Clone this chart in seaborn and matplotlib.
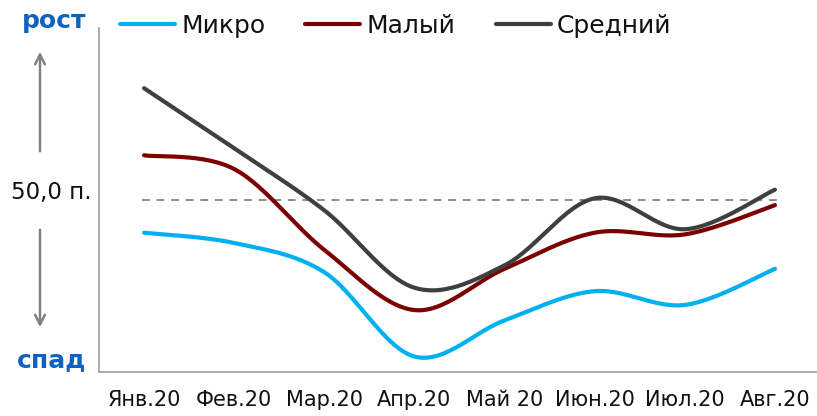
import numpy as np
import pandas as pd
import matplotlib
matplotlib.use("Agg")
import matplotlib.pyplot as plt
import seaborn as sns

# data (index, 50 = no change)
months = ["Янв.20", "Фев.20", "Мар.20", "Апр.20", "Май 20", "Июн.20", "Июл.20", "Авг.20"]
micro = [48.1, 47.5, 45.8, 40.9, 43.0, 44.7, 43.9, 46.0]
small = [52.6, 51.8, 47.1, 43.6, 46.0, 48.1, 48.0, 49.7]
medium = [56.5, 53.0, 49.4, 44.9, 46.2, 50.1, 48.3, 50.6]
series_names = ["Микро", "Малый", "Средний"]
colors = ["#00B0F0", "#7B0000", "#3F3F3F"]


def smooth(vals, n=30):
    # excel-like smoothed line (catmull-rom through the points)
    y = np.asarray(vals, dtype=float)
    x = np.arange(len(y), dtype=float)
    p = np.column_stack([x, y])
    pp = np.vstack([p[0], p, p[-1]])
    out = []
    t = np.linspace(0, 1, n)[:, None]
    for i in range(len(p) - 1):
        p0, p1, p2, p3 = pp[i], pp[i + 1], pp[i + 2], pp[i + 3]
        b1 = p1 + (p2 - p0) / 6
        b2 = p2 - (p3 - p1) / 6
        seg = ((1 - t) ** 3) * p1 + 3 * ((1 - t) ** 2) * t * b1 + 3 * (1 - t) * t ** 2 * b2 + t ** 3 * p2
        out.append(seg if i == 0 else seg[1:])
    return np.vstack(out)


frames = []
for name, vals in zip(series_names, [micro, small, medium]):
    c = smooth(vals)
    frames.append(pd.DataFrame({"x": c[:, 0], "y": c[:, 1], "series": name}))
df = pd.concat(frames, ignore_index=True)

sns.set_style("white")
plt.rcParams["font.family"] = ["DejaVu Sans"]

fig = plt.figure(figsize=(8.17, 4.16), dpi=100)
ax = fig.add_axes([99 / 817, 44 / 416, 721 / 817, 344 / 416])

ax.axhline(50, color="#8C8C8C", lw=1.4, ls=(0, (4, 3.5)), xmin=0.06, xmax=0.94, zorder=1)

sns.lineplot(data=df, x="x", y="y", hue="series", palette=colors, sort=False,
             estimator=None, lw=3, ax=ax, legend=False, zorder=3)

ax.set_xlim(-0.5, 7.5)
ax.set_ylim(40, 60)
ax.set_xticks(range(len(months)))
ax.set_xticklabels(months, fontsize=15, color="#111111")
ax.tick_params(axis="x", length=0, pad=13)
ax.set_yticks([])
ax.set_xlabel("")
ax.set_ylabel("")
for s in ["top", "right"]:
    ax.spines[s].set_visible(False)
for s in ["left", "bottom"]:
    ax.spines[s].set_color("#A6A6A6")
    ax.spines[s].set_linewidth(1.3)

# legend
handles = [plt.Line2D([], [], color=c, lw=3) for c in colors]
fig.legend(handles, series_names, loc="center left", bbox_to_anchor=(120 / 817, 1 - 26 / 416),
           ncol=3, frameon=False, fontsize=18, handlelength=2.2, handletextpad=0.25,
           columnspacing=1.6, borderaxespad=0, borderpad=0, labelcolor="#111111")

# left side annotations
fig.text(54 / 817, 1 - 21 / 416, "рост", ha="center", va="center", fontsize=18,
         fontweight="bold", color="#0F62BE")
fig.text(52 / 817, 1 - 360 / 416, "спад", ha="center", va="center", fontsize=18,
         fontweight="bold", color="#0F62BE")
fig.text(51 / 817, 1 - 193 / 416, "50,0 п.", ha="center", va="center", fontsize=16.5,
         color="#111111")
arrow = dict(arrowstyle="->,head_length=0.7,head_width=0.35", color="#808080", lw=1.8)
ax.annotate("", xy=(40, 416 - 49), xytext=(40, 416 - 154), xycoords="figure pixels",
            textcoords="figure pixels", arrowprops=arrow, annotation_clip=False)
ax.annotate("", xy=(40, 416 - 330), xytext=(40, 416 - 227), xycoords="figure pixels",
            textcoords="figure pixels", arrowprops=arrow, annotation_clip=False)

fig.savefig("out.png", dpi=100)
